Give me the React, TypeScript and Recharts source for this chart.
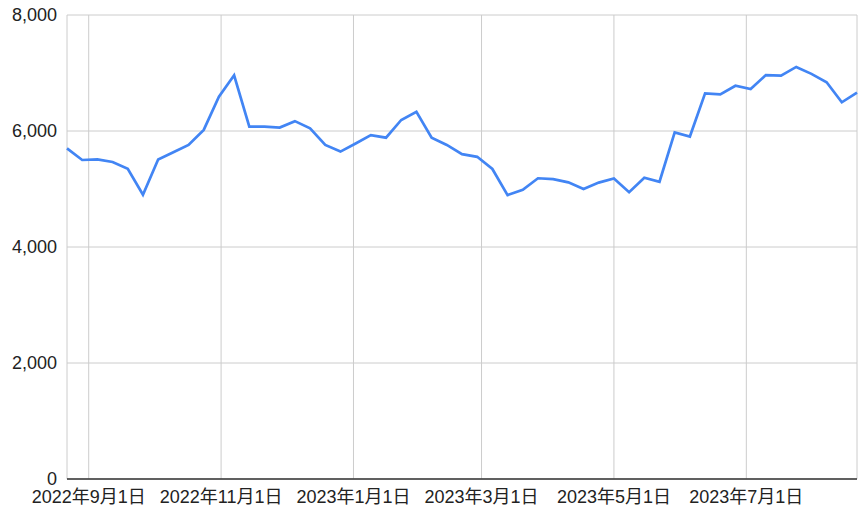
import React from 'react';
import { LineChart, Line, XAxis, YAxis, CartesianGrid } from 'recharts';

// weekly points (Mondays)
const dates = [
  '2022-08-22', '2022-08-29', '2022-09-05', '2022-09-12', '2022-09-19', '2022-09-26',
  '2022-10-03', '2022-10-10', '2022-10-17', '2022-10-24', '2022-10-31',
  '2022-11-07', '2022-11-14', '2022-11-21', '2022-11-28',
  '2022-12-05', '2022-12-12', '2022-12-19', '2022-12-26',
  '2023-01-02', '2023-01-09', '2023-01-16', '2023-01-23', '2023-01-30',
  '2023-02-06', '2023-02-13', '2023-02-20', '2023-02-27',
  '2023-03-06', '2023-03-13', '2023-03-20', '2023-03-27',
  '2023-04-03', '2023-04-10', '2023-04-17', '2023-04-24',
  '2023-05-01', '2023-05-08', '2023-05-15', '2023-05-22', '2023-05-29',
  '2023-06-05', '2023-06-12', '2023-06-19', '2023-06-26',
  '2023-07-03', '2023-07-10', '2023-07-17', '2023-07-24', '2023-07-31',
  '2023-08-07', '2023-08-14', '2023-08-21',
];

const values = [
  5700, 5500, 5510, 5465, 5350, 4900,
  5510, 5635, 5760, 6020, 6590,
  6960, 6075, 6075, 6060,
  6170, 6045, 5760, 5645,
  5785, 5930, 5885, 6190, 6330,
  5885, 5760, 5600, 5555,
  5345, 4895, 4985, 5185,
  5170, 5115, 5000, 5110,
  5180, 4945, 5195, 5125, 5975,
  5905, 6650, 6630, 6780,
  6725, 6965, 6955, 7105, 6985,
  6840, 6495, 6660,
];

const xTickDates = ['2022-09-01', '2022-11-01', '2023-01-01', '2023-03-01', '2023-05-01', '2023-07-01'];
const yTicks = [0, 2000, 4000, 6000, 8000];

const toTime = (s: string) => Date.parse(s + 'T00:00:00Z');

const data = dates.map((d, i) => ({ t: toTime(d), value: values[i] }));
const xTicks = xTickDates.map(toTime);

const fmtDate = (t: number) => {
  const d = new Date(t);
  return `${d.getUTCFullYear()}年${d.getUTCMonth() + 1}月${d.getUTCDate()}日`;
};

const font = "Arial, 'Liberation Sans', 'Noto Sans CJK JP', sans-serif";

export default function App() {
  return (
    <div style={{ position: 'absolute', left: 0, top: 0, background: '#fff' }}>
      <LineChart
        width={861}
        height={519}
        data={data}
        margin={{ top: 15, right: 4, bottom: 0, left: 0 }}
      >
        <CartesianGrid stroke="#cccccc" strokeWidth={1} />
        <XAxis
          dataKey="t"
          type="number"
          scale="time"
          domain={[toTime(dates[0]), toTime(dates[dates.length - 1])]}
          ticks={xTicks}
          tickFormatter={fmtDate}
          axisLine={{ stroke: '#333333', strokeWidth: 1.5 }}
          tickLine={false}
          tickMargin={5}
          height={40}
          interval={0}
          tick={{ fill: '#222222', fontSize: 18, fontFamily: font }}
        />
        <YAxis
          type="number"
          domain={[0, 8000]}
          ticks={yTicks}
          width={67}
          axisLine={false}
          tickLine={false}
          tickMargin={4}
          tickFormatter={(v: number) => v.toLocaleString('en-US')}
          tick={{ fill: '#222222', fontSize: 18, fontFamily: font }}
        />
        <Line
          type="linear"
          dataKey="value"
          stroke="#4285F4"
          strokeWidth={2.7}
          dot={false}
          isAnimationActive={false}
        />
      </LineChart>
    </div>
  );
}
